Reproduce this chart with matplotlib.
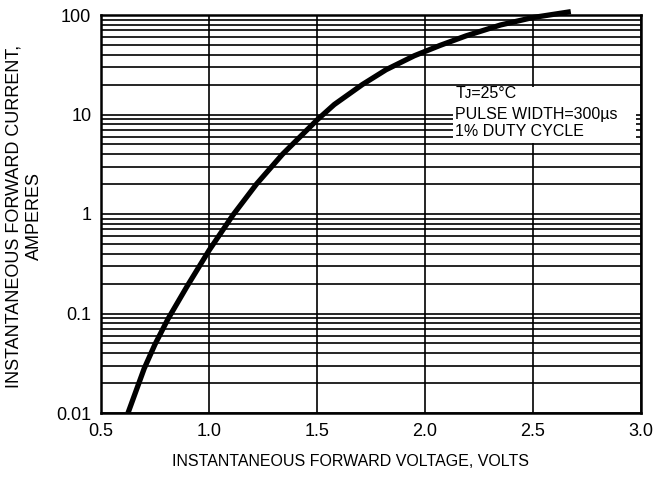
import matplotlib
matplotlib.use("Agg")
import matplotlib.pyplot as plt
from matplotlib.patches import Rectangle
from matplotlib.ticker import LogLocator, NullFormatter

plt.rcParams['font.family'] = ['Liberation Sans', 'DejaVu Sans']

# Data
voltage = [0.625, 0.70, 0.75, 0.81, 0.90, 1.00, 1.11, 1.22, 1.34, 1.50, 1.58,
           1.71, 1.82, 1.95, 2.07, 2.19, 2.35, 2.50, 2.675]
current = [0.010, 0.028, 0.049, 0.088, 0.19, 0.43, 0.97, 2.0, 3.98, 8.8, 12.6,
           20.0, 28.2, 38.9, 49.5, 61.7, 79.4, 94.4, 108.0]

x_ticks = [0.5, 1.0, 1.5, 2.0, 2.5, 3.0]
x_tick_labels = ["0.5", "1.0", "1.5", "2.0", "2.5", "3.0"]
y_ticks = [0.01, 0.1, 1, 10, 100]
y_tick_labels = ["0.01", "0.1", "1", "10", "100"]

note_lines = ["T\u1d0a=25°C", "PULSE WIDTH=300µs", "1% DUTY CYCLE"]

W, H = 655, 478
fig = plt.figure(figsize=(W / 100, H / 100), dpi=100)
ax = fig.add_axes([101 / W, 1 - 413 / H, 540 / W, 398 / H])

ax.set_yscale('log')
ax.set_xlim(0.5, 3.0)
ax.set_ylim(0.01, 100)

ax.set_xticks(x_ticks)
ax.set_xticklabels(x_tick_labels)
ax.set_yticks(y_ticks)
ax.set_yticklabels(y_tick_labels)
ax.yaxis.set_minor_locator(LogLocator(base=10, subs=range(2, 10)))
ax.yaxis.set_minor_formatter(NullFormatter())

ax.tick_params(axis='both', which='both', length=0, labelsize=13, colors='black')
ax.tick_params(axis='x', pad=7)
ax.tick_params(axis='y', pad=7)

ax.grid(True, axis='x', which='major', color='black', lw=1.2)
ax.grid(True, axis='y', which='both', color='black', lw=1.2)
ax.set_axisbelow(True)

for s in ax.spines.values():
    s.set_linewidth(1.8)
    s.set_color('black')

# White note box
ax.add_patch(Rectangle((2.13, 5.2), 2.975 - 2.13, 19 - 5.2, facecolor='white',
                       edgecolor='none', zorder=2))
for txt, yv in zip(note_lines, [16.1, 10.1, 6.67]):
    ax.text(2.14, yv, txt, fontsize=11.5, va='center', ha='left', zorder=3)

ax.plot(voltage, current, color='black', lw=3.8, solid_capstyle='butt',
        solid_joinstyle='round', clip_on=False, zorder=4)

fig.text(350 / W, 1 - 462 / H, "INSTANTANEOUS FORWARD VOLTAGE, VOLTS",
         ha='center', va='center', fontsize=11.5)
fig.text(14 / W, 1 - 216 / H, "INSTANTANEOUS FORWARD CURRENT,",
         rotation=90, ha='center', va='center', fontsize=13)
fig.text(34 / W, 1 - 216 / H, "AMPERES",
         rotation=90, ha='center', va='center', fontsize=13)

fig.savefig("out.png", dpi=100)
